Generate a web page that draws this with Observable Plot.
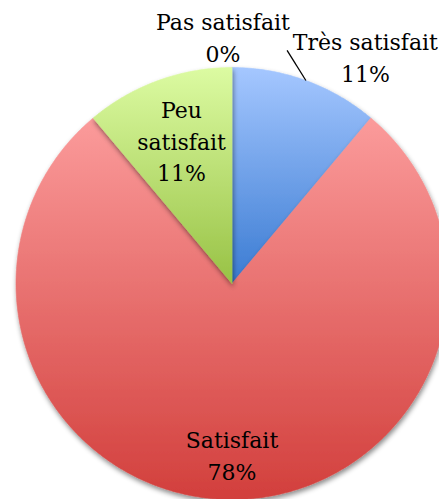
<!DOCTYPE html>
<html><head><meta charset="utf-8">
<script src="https://cdn.jsdelivr.net/npm/d3@7"></script>
<script src="https://cdn.jsdelivr.net/npm/@observablehq/plot@0.6"></script>
<style>body{margin:0;background:#fff}</style>
</head><body><div id="chart"></div>
<script>
// ---- data ----
const categories = ["Très satisfait", "Satisfait", "Peu satisfait", "Pas satisfait"];
const values = [1, 7, 1, 0];

// ---- styles (gradient top / bottom per slice) ----
const gradTop = ["#a5c7ff", "#fb9b9b", "#dcfba2"];
const gradBottom = ["#3a7bd2", "#d23f3c", "#98c245"];

// ---- layout ----
const W = 439, H = 499, CX = 231.5, CY = 283, R = 216;
const deg = Math.PI / 180;
// label placement: angle offset from slice mid (deg), radius factor, line-wrapped text
const labelLayout = {
  "Très satisfait": {shift: 10.4, k: 1.22, wrap: false, leader: {shift: -6.7, k: 1.109}},
  "Satisfait": {shift: 0, k: 0.79, wrap: false},
  "Peu satisfait": {shift: 0.7, k: 0.707, wrap: true},
  "Pas satisfait": {shift: -2.1, k: 1.147, wrap: false}
};

const total = d3.sum(values);
const arcs = d3.pie().sort(null).value(d => d)(values);
const polar = (a, r) => [CX + r * Math.sin(a), CY - r * Math.cos(a)];

// slice outlines from pie angles
const slicePts = [];
arcs.forEach((a, i) => {
  const span = a.endAngle - a.startAngle;
  if (span <= 0) return;
  const n = Math.max(2, Math.ceil(span / (0.5 * deg)));
  slicePts.push({i, x: CX, y: CY});
  for (let s = 0; s <= n; ++s) {
    const [x, y] = polar(a.startAngle + span * s / n, R);
    slicePts.push({i, x, y});
  }
  slicePts.push({i, x: CX, y: CY});
});

const labels = arcs.map((a, i) => {
  const L = labelLayout[categories[i]];
  const mid = (a.startAngle + a.endAngle) / 2;
  const [x, y] = polar(mid + L.shift * deg, R * L.k);
  const pct = Math.round(values[i] / total * 100) + "%";
  const name = L.wrap ? categories[i].replace(" ", "\n") : categories[i];
  return {x, y, text: name + "\n" + pct};
});

const leaders = [];
arcs.forEach((a, i) => {
  const L = labelLayout[categories[i]];
  if (!L.leader) return;
  const mid = (a.startAngle + a.endAngle) / 2;
  const [x1, y1] = polar(mid, R);
  const [x2, y2] = polar(mid + L.leader.shift * deg, R * L.leader.k);
  leaders.push({x1, y1, x2, y2});
});

const sliceMarks = arcs.map((a, i) => a.endAngle > a.startAngle ?
  Plot.line(slicePts.filter(p => p.i === i), {
    x: "x", y: "y", curve: "linear",
    fill: `url(#grad${i})`, stroke: `url(#grad${i})`, strokeWidth: 0.6
  }) : null).filter(Boolean);

const chart = Plot.plot({
  width: W, height: H,
  margin: 0,
  x: {domain: [0, W], range: [0, W], axis: null},
  y: {domain: [0, H], range: [0, H], axis: null},
  marks: [
    ...sliceMarks,
    Plot.link(leaders, {x1: "x1", y1: "y1", x2: "x2", y2: "y2", stroke: "#000", strokeWidth: 1.3}),
    Plot.text(labels, {x: "x", y: "y", text: "text", fontSize: 22, fontFamily: "DejaVu Serif",
      lineHeight: 1.45, fill: "#000", textAnchor: "middle"})
  ]
});

const svg = d3.select(chart);
const defs = svg.insert("defs", ":first-child");
gradTop.forEach((c, i) => {
  const g = defs.append("linearGradient").attr("id", "grad" + i)
    .attr("x1", 0).attr("y1", 0).attr("x2", 0).attr("y2", 1);
  g.append("stop").attr("offset", "0%").attr("stop-color", c);
  g.append("stop").attr("offset", "100%").attr("stop-color", gradBottom[i]);
});
const filt = defs.append("filter").attr("id", "shadow")
  .attr("x", "-10%").attr("y", "-10%").attr("width", "120%").attr("height", "120%");
filt.append("feDropShadow").attr("dx", 1).attr("dy", 3).attr("stdDeviation", 2.5)
  .attr("flood-color", "#000").attr("flood-opacity", 0.45);
svg.selectAll("g[aria-label='line']").attr("filter", "url(#shadow)");

document.getElementById("chart").appendChild(chart);
</script>
</body></html>
